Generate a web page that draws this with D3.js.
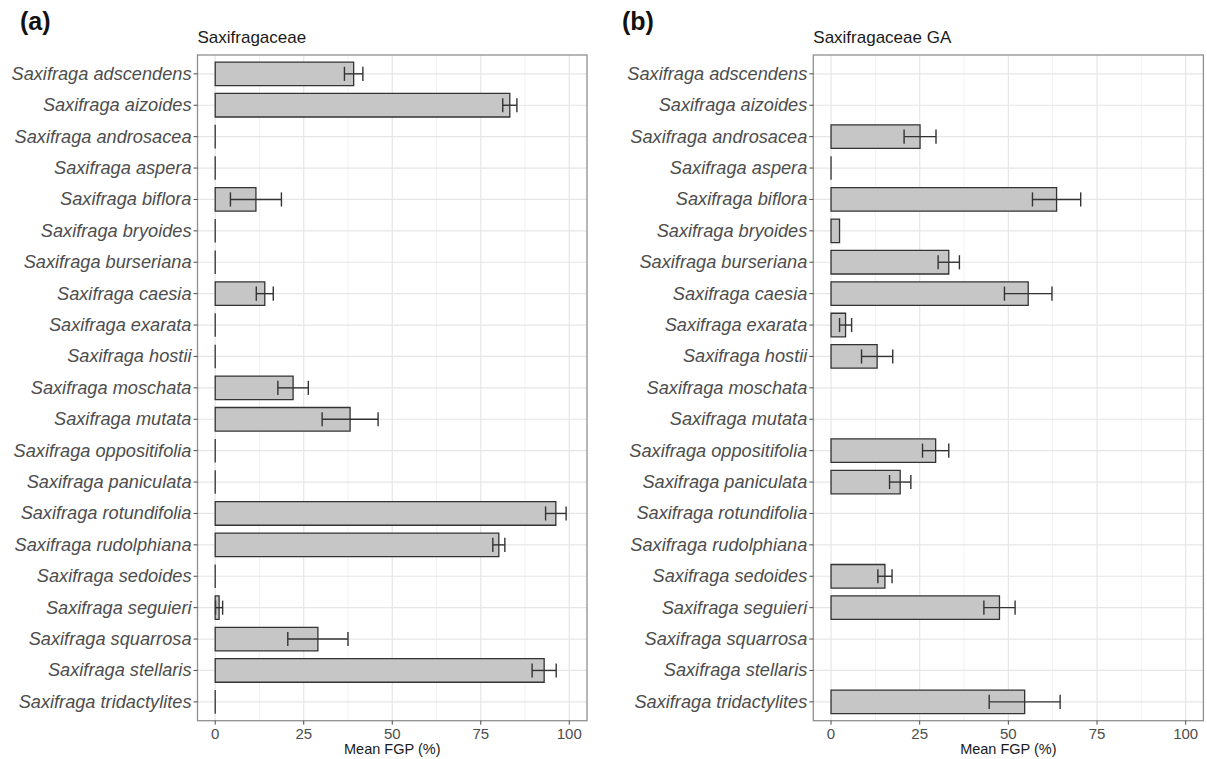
<!DOCTYPE html>
<html>
<head>
<meta charset="utf-8">
<script src="https://cdn.jsdelivr.net/npm/d3@7"></script>
<style>
  html, body { margin: 0; padding: 0; background: #fff; }
  svg { display: block; font-family: "Liberation Sans", Arial, sans-serif; }
</style>
</head>
<body>
<svg id="chart" width="1207" height="759"></svg>
<script>
// Species shared by both panels (top to bottom)
const species = [
  "Saxifraga adscendens", "Saxifraga aizoides", "Saxifraga androsacea", "Saxifraga aspera",
  "Saxifraga biflora", "Saxifraga bryoides", "Saxifraga burseriana", "Saxifraga caesia",
  "Saxifraga exarata", "Saxifraga hostii", "Saxifraga moschata", "Saxifraga mutata",
  "Saxifraga oppositifolia", "Saxifraga paniculata", "Saxifraga rotundifolia",
  "Saxifraga rudolphiana", "Saxifraga sedoides", "Saxifraga seguieri", "Saxifraga squarrosa",
  "Saxifraga stellaris", "Saxifraga tridactylites"
];

// Panel (a): Saxifragaceae, mean final germination percentage and error
const fgpA = [39.1, 83.2, 0, 0, 11.5, 0, 0, 14.0, 0, 0, 22.0, 38.1, 0, 0, 96.2, 80.1, 0, 1.1, 29.0, 92.9, 0];
const errA = [2.6, 2.0, 0, 0, 7.2, 0, 0, 2.4, 0, 0, 4.3, 7.9, 0, 0, 2.9, 1.7, 0, 1.0, 8.5, 3.4, 0];

// Panel (b): Saxifragaceae GA (null = not tested)
const fgpB = [null, null, 25.1, 0, 63.6, 2.4, 33.2, 55.6, 4.1, 13.0, null, null, 29.5, 19.5, null, null, 15.2, 47.5, null, null, 54.6];
const errB = [null, null, 4.5, 0, 6.8, 0, 3.0, 6.7, 1.7, 4.4, null, null, 3.7, 3.0, null, null, 2.0, 4.4, null, null, 10.0];

const xTicks = [0, 25, 50, 75, 100];
const xMinor = [12.5, 37.5, 62.5, 87.5];
const xTitle = "Mean FGP (%)";

const svg = d3.select("#chart");

function drawPanel(opt) {
  const { left, right, top, bottom, values, errors, title, tag, tagX } = opt;
  const g = svg.append("g");

  const x = d3.scaleLinear().domain([-5, 105]).range([left, right]);
  // discrete axis with 0.6 units of expansion on each side
  const y = d3.scalePoint().domain(species)
    .range([top, bottom]).padding(0.6);
  const step = y.step();

  // gridlines
  g.selectAll("line.minor").data(xMinor).join("line")
    .attr("x1", d => x(d)).attr("x2", d => x(d))
    .attr("y1", top).attr("y2", bottom)
    .attr("stroke", "#f2f2f2").attr("stroke-width", 1);
  g.selectAll("line.major").data(xTicks).join("line")
    .attr("x1", d => x(d)).attr("x2", d => x(d))
    .attr("y1", top).attr("y2", bottom)
    .attr("stroke", "#e6e6e6").attr("stroke-width", 1.2);
  g.selectAll("line.hgrid").data(species).join("line")
    .attr("x1", left).attr("x2", right)
    .attr("y1", d => y(d)).attr("y2", d => y(d))
    .attr("stroke", "#e6e6e6").attr("stroke-width", 1.2);

  const barH = step * 0.75;
  const capH = step * 0.45;
  const rows = species.map((s, i) => ({ s, v: values[i], e: errors[i] })).filter(d => d.v !== null);

  // bars drawn as closed paths so zero-valued bars still show an outline at 0
  g.selectAll("path.bar").data(rows).join("path")
    .attr("d", d => {
      const x0 = x(0), x1 = x(d.v), y0 = y(d.s) - barH / 2, y1 = y(d.s) + barH / 2;
      return `M${x0},${y0}H${x1}V${y1}H${x0}Z`;
    })
    .attr("fill", "#c6c6c6").attr("stroke", "#333").attr("stroke-width", 1.3);

  // error bars
  const eb = rows.filter(d => d.e > 0);
  const eg = g.selectAll("g.err").data(eb).join("g")
    .attr("stroke", "#333").attr("stroke-width", 1.4).attr("fill", "none");
  eg.append("line")
    .attr("x1", d => x(d.v - d.e)).attr("x2", d => x(d.v + d.e))
    .attr("y1", d => y(d.s)).attr("y2", d => y(d.s));
  eg.append("line")
    .attr("x1", d => x(d.v - d.e)).attr("x2", d => x(d.v - d.e))
    .attr("y1", d => y(d.s) - capH / 2).attr("y2", d => y(d.s) + capH / 2);
  eg.append("line")
    .attr("x1", d => x(d.v + d.e)).attr("x2", d => x(d.v + d.e))
    .attr("y1", d => y(d.s) - capH / 2).attr("y2", d => y(d.s) + capH / 2);

  // panel border
  g.append("rect")
    .attr("x", left).attr("y", top).attr("width", right - left).attr("height", bottom - top)
    .attr("fill", "none").attr("stroke", "#8f8f8f").attr("stroke-width", 1.3);

  // y axis ticks and labels
  g.selectAll("line.ytick").data(species).join("line")
    .attr("x1", left - 4).attr("x2", left)
    .attr("y1", d => y(d)).attr("y2", d => y(d))
    .attr("stroke", "#4d4d4d").attr("stroke-width", 1);
  g.selectAll("text.ylab").data(species).join("text")
    .attr("x", left - 6).attr("y", d => y(d) + 6)
    .attr("text-anchor", "end")
    .attr("font-style", "italic").attr("font-size", 18.2)
    .attr("fill", "#4d4d4d")
    .text(d => d);

  // x axis ticks and labels
  g.selectAll("line.xtick").data(xTicks).join("line")
    .attr("x1", d => x(d)).attr("x2", d => x(d))
    .attr("y1", bottom).attr("y2", bottom + 4)
    .attr("stroke", "#4d4d4d").attr("stroke-width", 1);
  g.selectAll("text.xlab").data(xTicks).join("text")
    .attr("x", d => x(d)).attr("y", bottom + 18)
    .attr("text-anchor", "middle").attr("font-size", 15)
    .attr("fill", "#4d4d4d")
    .text(d => d);
  g.append("text")
    .attr("x", (left + right) / 2).attr("y", bottom + 33)
    .attr("text-anchor", "middle").attr("font-size", 14.5)
    .attr("fill", "#1a1a1a")
    .text(xTitle);

  // panel title and tag
  g.append("text")
    .attr("x", left).attr("y", top - 12)
    .attr("font-size", 17).attr("fill", "#1a1a1a")
    .text(title);
  g.append("text")
    .attr("x", tagX).attr("y", 30)
    .attr("font-size", 25).attr("font-weight", "bold").attr("fill", "#111")
    .text(tag);
}

drawPanel({ left: 197.5, right: 587, top: 55, bottom: 720.7, values: fgpA, errors: errA,
  title: "Saxifragaceae", tag: "(a)", tagX: 20 });
drawPanel({ left: 813.3, right: 1203.4, top: 55, bottom: 720.7, values: fgpB, errors: errB,
  title: "Saxifragaceae GA", tag: "(b)", tagX: 622 });
</script>
</body>
</html>
